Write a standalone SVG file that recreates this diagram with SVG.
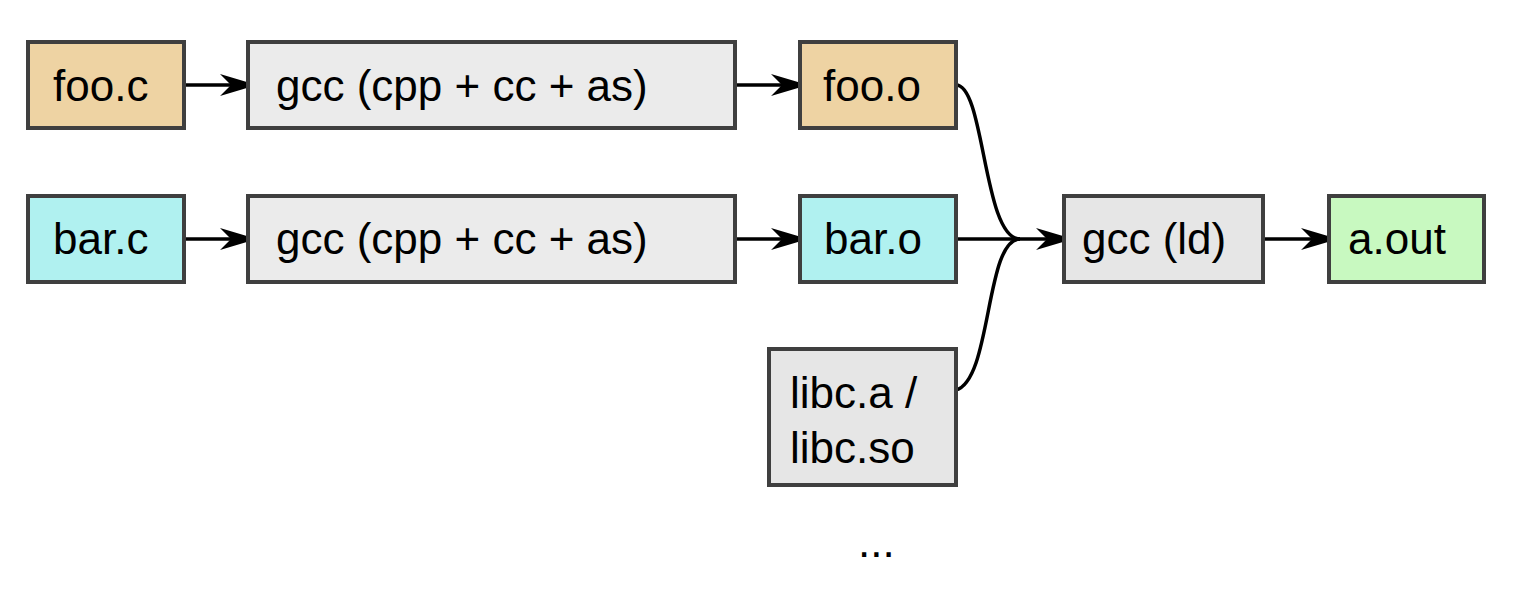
<svg xmlns="http://www.w3.org/2000/svg" width="1518" height="592" viewBox="0 0 1518 592">
<style>
.box{stroke:#3f3f3f;stroke-width:4}
.t{font-family:"Liberation Sans",Arial,sans-serif;font-size:44px;fill:#000}
.edge{fill:none;stroke:#000;stroke-width:3.5}
.src{fill:#eed3a3}
.blue{fill:#b0f1f0}
.gcc{fill:#ebebeb}
.grey{fill:#e6e6e6}
.out{fill:#c8f9c0}
</style>
<defs>
<marker id="ah" markerUnits="userSpaceOnUse" markerWidth="44" markerHeight="28" viewBox="-40 -14 44 28" refX="0" refY="0" orient="auto">
<path d="M0,0 L-37,-11 L-26,0 L-37,11 Z" fill="#000"/>
</marker>
</defs>
<rect width="1518" height="592" fill="#fff"/>
<g id="connectors">
<path class="edge" d="M184,85 L257,85" marker-end="url(#ah)"/>
<path class="edge" d="M735,85 L808,85" marker-end="url(#ah)"/>
<path class="edge" d="M184,239 L257,239" marker-end="url(#ah)"/>
<path class="edge" d="M735,239 L808,239" marker-end="url(#ah)"/>
<path class="edge" d="M956,85 C985,85 983,239 1020,239"/>
<path class="edge" d="M956,390 C992,380 985,239 1020,239"/>
<path class="edge" d="M956,239 L1073,239" marker-end="url(#ah)"/>
<path class="edge" d="M1263,239 L1338,239" marker-end="url(#ah)"/>
</g>
<g id="foo_c"><rect class="box src" x="28" y="42" width="156" height="86"/><text class="t" x="53" y="101">foo.c</text></g>
<g id="gcc1"><rect class="box gcc" x="248" y="42" width="487" height="86"/><text class="t" x="276" y="101">gcc (cpp + cc + as)</text></g>
<g id="foo_o"><rect class="box src" x="800" y="42" width="156" height="86"/><text class="t" x="823" y="101">foo.o</text></g>
<g id="bar_c"><rect class="box blue" x="28" y="196" width="156" height="86"/><text class="t" x="53" y="254">bar.c</text></g>
<g id="gcc2"><rect class="box gcc" x="248" y="196" width="487" height="86"/><text class="t" x="276" y="254">gcc (cpp + cc + as)</text></g>
<g id="bar_o"><rect class="box blue" x="800" y="196" width="156" height="86"/><text class="t" x="824" y="254">bar.o</text></g>
<g id="libc"><rect class="box grey" x="769" y="349" width="187" height="136"/><text class="t" x="790" y="408">libc.a /</text><text class="t" x="790" y="463">libc.so</text></g>
<g id="ld"><rect class="box grey" x="1064" y="196" width="199" height="86"/><text class="t" x="1082" y="254">gcc (ld)</text></g>
<g id="aout"><rect class="box out" x="1329" y="196" width="155" height="86"/><text class="t" x="1348" y="254">a.out</text></g>
<g id="more"><text class="t" x="858" y="557">...</text></g>
</svg>
